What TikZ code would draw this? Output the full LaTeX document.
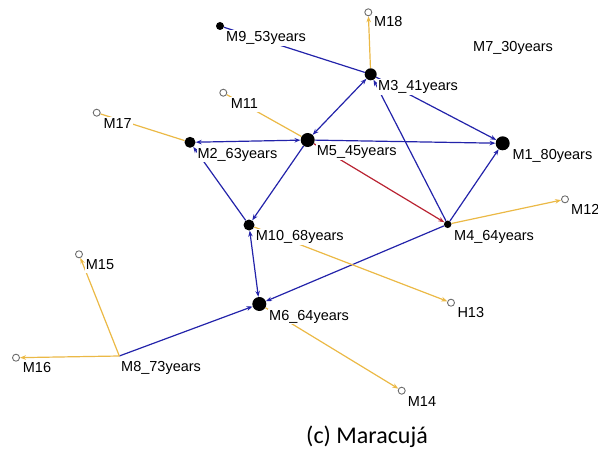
\documentclass[tikz,border=0pt]{standalone}
\usepackage{fontspec}
\setmainfont{Liberation Sans}
\newfontfamily\capfont{Carlito}
\usetikzlibrary{arrows.meta,backgrounds}
\definecolor{eblue}{RGB}{35,35,170}
\definecolor{eorange}{RGB}{235,185,70}
\definecolor{ered}{RGB}{185,35,50}
\definecolor{cgray}{RGB}{110,110,110}
\tikzset{
  bigdot/.style={circle,fill=black,inner sep=0pt,minimum size=#1},
  opendot/.style={circle,draw=cgray,fill=white,line width=0.9pt,inner sep=0pt,minimum size=7pt},
  lbl/.style={anchor=base west,fill=white,inner sep=1pt,font=\fontsize{14.5}{16}\selectfont,text height=10.5pt,text depth=3pt},
  be/.style={draw=eblue,line width=1.2pt},
  oe/.style={draw=eorange,line width=1.2pt},
  re/.style={draw=ered,line width=1.2pt},
  tip/.style={-{Stealth[length=6pt,width=4.5pt]}},
  tips/.style={{Stealth[length=6pt,width=4.5pt]}-{Stealth[length=6pt,width=4.5pt]}}
}
\begin{document}
\begin{tikzpicture}[x=1pt,y=-1pt]
\useasboundingbox (0,0) rectangle (598,452);
% nodes
\node[bigdot=8pt] (M9) at (220,26) {};
\node[opendot] (M18) at (368.3,12.3) {};
\node[bigdot=12pt] (M3) at (370.7,74.3) {};
\node[opendot] (M11) at (223.3,92.7) {};
\node[opendot] (M17) at (96.7,112.7) {};
\node[bigdot=11pt] (M2) at (190,142.3) {};
\node[bigdot=14pt] (M5) at (307.7,140) {};
\node[bigdot=14pt] (M1) at (502.7,143.3) {};
\node[opendot] (M12) at (565,199.3) {};
\node[bigdot=7.5pt] (M4) at (447.7,224.3) {};
\node[bigdot=11pt] (M10) at (249,225) {};
\node[opendot] (M15) at (79,254.3) {};
\node[bigdot=14pt] (M6) at (259.3,304) {};
\node[opendot] (H13) at (451,302.7) {};
\coordinate (M8) at (119.3,356);
\node[opendot] (M16) at (16,357.7) {};
\node[opendot] (M14) at (401.7,390.7) {};
% edges
\begin{pgfonlayer}{background}
\path[be] (M9) -- (M3);
\path[oe,tip] (M3) -- (M18);
\path[be,tips] (M3) -- (M5);
\path[be,tip] (M3) -- (M1);
\path[be,tip] (M4) -- (M3);
\path[oe] (M11) -- (M5);
\path[oe] (M17) -- (M2);
\path[be,tips] (M2) -- (M5);
\path[be,tip] (M5) -- (M1);
\path[re,tip] (M5) -- (M4);
\path[be,tip] (M5) -- (M10);
\path[be,tip] (M10) -- (M2);
\path[be,tips] (M10) -- (M6);
\path[be,tip] (M4) -- (M1);
\path[oe,tip] (M4) -- (M12);
\path[be,tip] (M4) -- (M6);
\path[oe,tip] (M10) -- (H13);
\path[oe,tip] (M6) -- (M14);
\path[be,tip] (M8) -- (M6);
\path[oe,tip] (M8) -- (M15);
\path[oe,tip] (M8) -- (M16);
\end{pgfonlayer}
% labels
\node[lbl] (lM9) at (225,41.7) {M9\_53years};
\node[lbl] (lM18) at (373,26.7) {M18};
\node[lbl] (lM3) at (377,91) {M3\_41years};
\node[lbl] (lM7) at (472,51.7) {M7\_30years};
\node[lbl] (lM11) at (229.7,108.3) {M11};
\node[lbl] (lM17) at (102.3,128.3) {M17};
\node[lbl] (lM2) at (196.3,158.3) {M2\_63years};
\node[lbl] (lM5) at (315.7,156) {M5\_45years};
\node[lbl] (lM1) at (511.3,159.3) {M1\_80years};
\node[lbl] (lM12) at (570,214.3) {M12};
\node[lbl] (lM4) at (453,240.3) {M4\_64years};
\node[lbl] (lM10) at (254.7,240.7) {M10\_68years};
\node[lbl] (lM15) at (84.7,269.3) {M15};
\node[lbl] (lH13) at (456.3,317.7) {H13};
\node[lbl] (lM6) at (268,320) {M6\_64years};
\node[lbl] (lM16) at (21.7,372.7) {M16};
\node[lbl] (lM8) at (120,371.7) {M8\_73years};
\node[lbl] (lM14) at (406.7,406) {M14};
\node[font=\capfont\fontsize{24}{28}\selectfont,inner sep=0pt] (cap) at (367,437) {(c) Maracujá};
\end{tikzpicture}
\end{document}
